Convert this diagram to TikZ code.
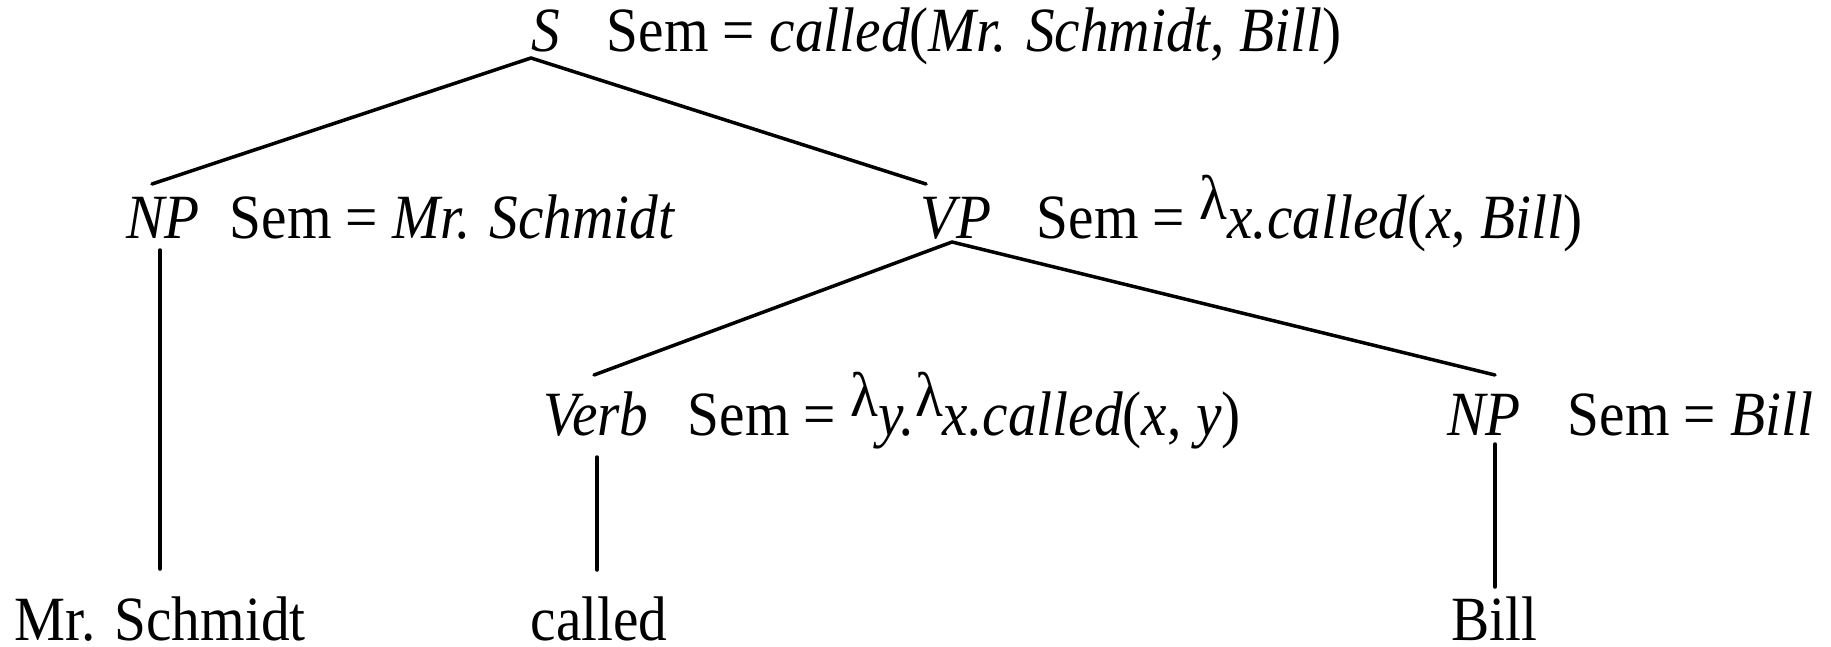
\documentclass[tikz,border=0pt]{standalone}
\usepackage{fontspec}
\setmainfont{Liberation Serif}[FakeStretch=0.91]
\usetikzlibrary{positioning}
\newcommand{\semsize}{\fontsize{18}{22}\selectfont}
\newcommand{\lam}{\raisebox{0.3em}{λ}}
\tikzset{
  cat/.style={font=\semsize\itshape,inner sep=0pt,anchor=base},
  sem/.style={font=\semsize,inner sep=0pt,anchor=base west},
  leaf/.style={font=\semsize,inner sep=0pt,anchor=base},
  branch/.style={line width=1pt,line cap=round},
}
\begin{document}
\begin{tikzpicture}[x=0.2857pt,y=-0.2857pt]
  \useasboundingbox (0,0) rectangle (1831,647);

  % categories with their semantics
  \node[cat] (s) at (546,52) {S};
  \node[sem] (s-sem) at (606,52) {Sem = \textit{called}(\textit{Mr. Schmidt}, \textit{Bill})};
  \node[cat] (np1) at (163,238) {NP};
  \node[sem] (np1-sem) at (229,238) {Sem = \textit{Mr. Schmidt}};
  \node[cat] (vp) at (956,238) {VP};
  \node[sem] (vp-sem) at (1036,238) {Sem = \lam\textit{x.called}(\textit{x}, \textit{Bill})};
  \node[cat] (verb) at (596,435) {Verb};
  \node[sem] (verb-sem) at (687,435) {Sem = \lam\textit{y.}\lam\textit{x.called}(\textit{x}, \textit{y})};
  \node[cat] (np2) at (1484,435) {NP};
  \node[sem] (np2-sem) at (1567,435) {Sem = \textit{Bill}};

  % words
  \node[leaf] (w-schmidt) at (160,640) {Mr. Schmidt};
  \node[leaf] (w-called) at (599,640) {called};
  \node[leaf] (w-bill) at (1494,640) {Bill};

  % branches
  \draw[branch] ([shift={(-15,6)}]s.base) -- ([shift={(-11,-54)}]np1.base);
  \draw[branch] ([shift={(-15,6)}]s.base) -- ([shift={(-30,-54)}]vp.base);
  \draw[branch] ([shift={(-4,4)}]vp.base) -- ([shift={(-2,-60)}]verb.base);
  \draw[branch] ([shift={(-4,4)}]vp.base) -- ([shift={(11,-60)}]np2.base);
  \draw[branch] ([shift={(-3,12)}]np1.base) -- ([shift={(0,-71)}]w-schmidt.base);
  \draw[branch] ([shift={(1,22)}]verb.base) -- ([shift={(-2,-70)}]w-called.base);
  \draw[branch] ([shift={(11,9)}]np2.base) -- ([shift={(1,-53)}]w-bill.base);
\end{tikzpicture}
\end{document}
